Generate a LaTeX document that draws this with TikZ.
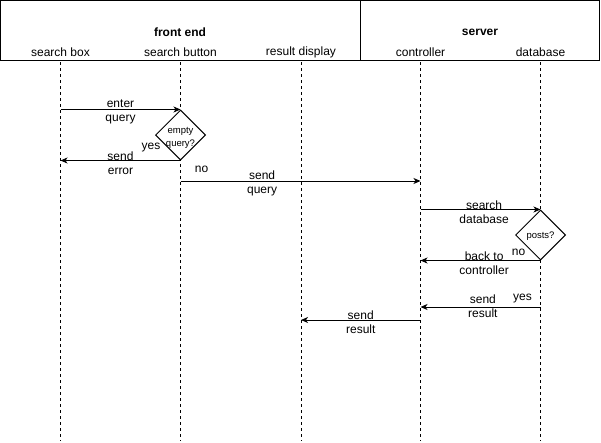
\documentclass[tikz,border=0pt]{standalone}
\usepackage{fontspec}
\setmainfont{Liberation Sans}
\usepackage{tikz}
\usetikzlibrary{arrows.meta,positioning,shapes.geometric}
\tikzset{
  life/.style={dash pattern=on 3pt off 3pt,line width=0.8pt},
  msg/.style={-{Stealth[length=7pt,width=6pt,inset=2pt]},line width=1pt},
  lbl/.style={font=\fontsize{12}{14}\selectfont,align=center,inner sep=1pt},
  mlbl/.style={lbl,yshift=-2.5pt},
  ttl/.style={font=\fontsize{12}{14}\selectfont\bfseries,inner sep=1pt},
  dec/.style={diamond,draw,fill=white,line width=1pt,minimum width=50pt,minimum height=50pt,inner sep=0pt},
  dtxt/.style={align=center,inner sep=0pt,font=\fontsize{9.5}{13}\selectfont}
}
\begin{document}
\begin{tikzpicture}[x=1pt,y=-1pt]
\useasboundingbox (0,0) rectangle (601,442);
% header
\draw[line width=1pt] (0.5,0.5) rectangle (599.5,60) (360.5,0.5) -- (360.5,60);
\node[ttl] (fe) at (180,32.5) {front end};
\node[ttl] (sv) at (480,32.5) {server};
% lifelines
\foreach \n/\x/\t in {sb/60.5/search box,bt/180.5/search button,rd/301/result display,ct/420.5/controller,db/540.5/database}{
  \node[lbl] (\n) at (\x,52) {\t};
  \coordinate (\n-top) at (\x,62);
  \coordinate (\n-bot) at (\x,441);
  \draw[life] (\n-top) -- (\n-bot);
}
% decisions
\node[dec] (q1) at (180.5,135) {};
\node[dtxt] (q1t) at (180.5,137.5) {empty\\query?};
\node[dec] (q2) at (540.5,235) {};
\node[dtxt] (q2t) at (540.5,236) {posts?};
% messages
\draw[msg] (sb-top |- q1.north) -- node[mlbl]{enter\\query} (q1.north);
\draw[msg] (q1.south) -- node[mlbl]{send\\error} (sb-top |- q1.south);
\node[lbl] (yes1) at (151,148) {yes};
\node[lbl] (no1) at (201.5,169) {no};
\coordinate (sq) at (180.5,181);
\draw[msg] (sq) -- node[mlbl,pos=0.34]{send\\query} (ct-top |- sq);
\draw[msg] (ct-top |- q2.north) -- node[mlbl,pos=0.53]{search\\database} (q2.north);
\draw[msg] (q2.south) -- node[mlbl,pos=0.47]{back to\\controller} (ct-top |- q2.south);
\node[lbl] (no2) at (518.5,252) {no};
\coordinate (sr) at (540.5,307);
\draw[msg] (sr) -- node[lbl,yshift=1pt,pos=0.48]{send\\result} (ct-top |- sr);
\node[lbl] (yes2) at (522.5,299) {yes};
\coordinate (sr2) at (420.5,320);
\draw[msg] (sr2) -- node[mlbl]{send\\result} (rd-top |- sr2);
\end{tikzpicture}
\end{document}
